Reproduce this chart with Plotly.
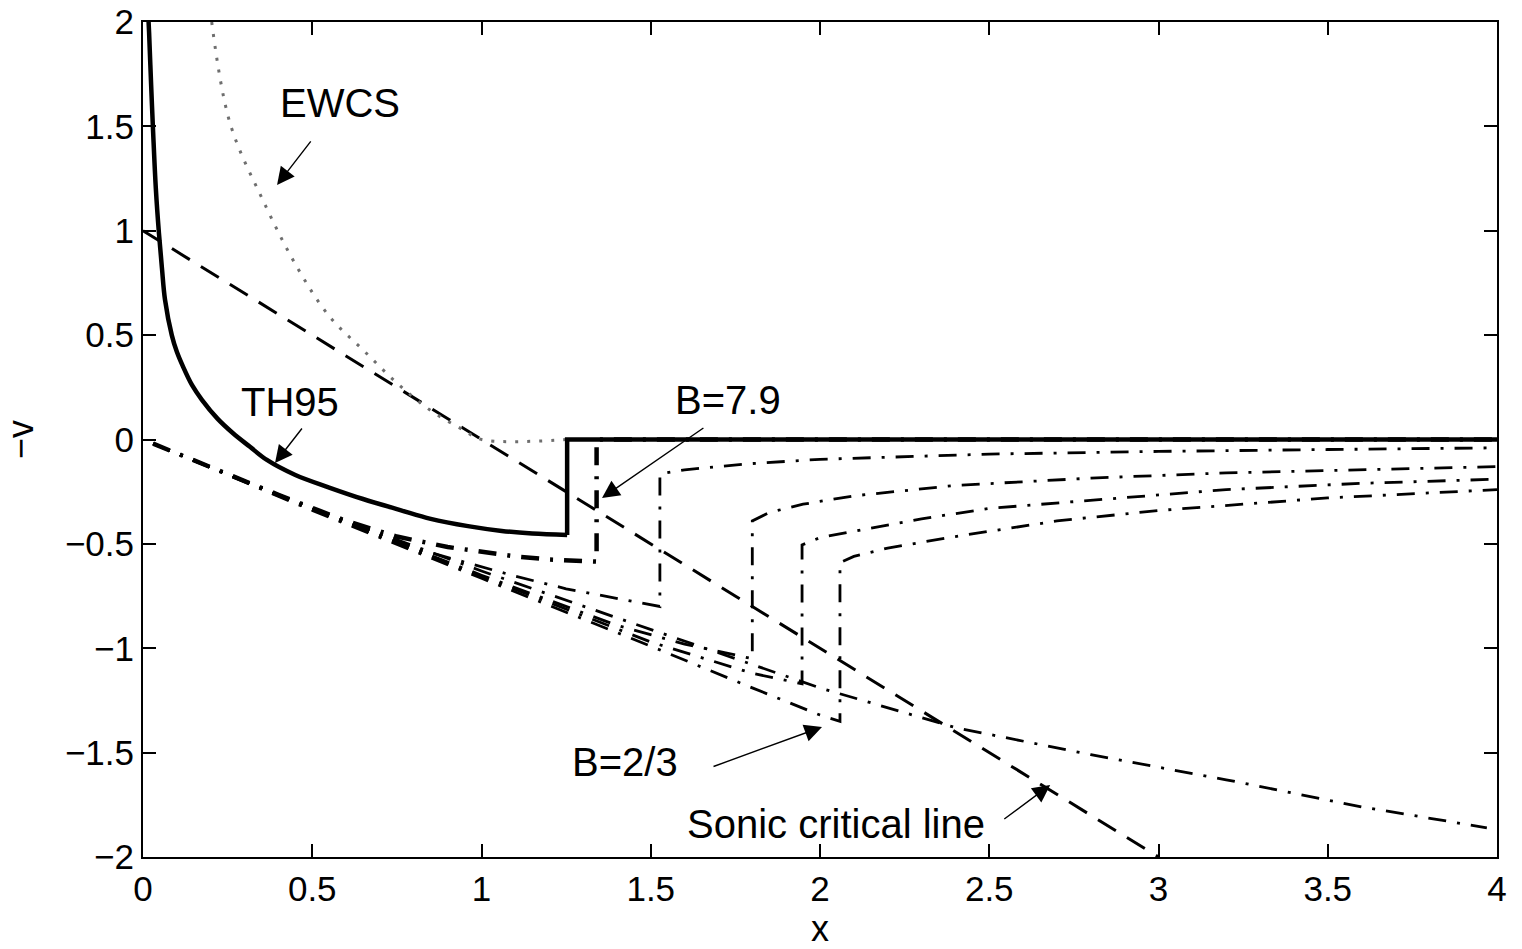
import plotly.graph_objects as go

# ---------------- data ----------------
x_tick_vals = [0, 0.5, 1, 1.5, 2, 2.5, 3, 3.5, 4]
x_tick_text = ["0", "0.5", "1", "1.5", "2", "2.5", "3", "3.5", "4"]
y_tick_vals = [-2, -1.5, -1, -0.5, 0, 0.5, 1, 1.5, 2]
y_tick_text = ["\u22122", "\u22121.5", "\u22121", "\u22120.5", "0", "0.5", "1", "1.5", "2"]

# sonic critical line
sonic_x = [0.0, 3.0]
sonic_y = [1.0, -2.0]

# EWCS (dotted)
ewcs_x = [0.203, 0.257, 0.354, 0.455, 0.552, 0.650, 0.750, 0.848, 0.946, 1.0, 1.253]
ewcs_y = [2.0, 1.516, 1.147, 0.826, 0.587, 0.429, 0.271, 0.141, 0.046, 0.0, 0.0]

# TH95 (thick solid): inflow branch, then shock jump and flat outer part
th95_x = [0.0165, 0.018, 0.024, 0.030, 0.038, 0.047, 0.056, 0.065, 0.085, 0.10, 0.118, 0.145,
          0.174, 0.22, 0.266, 0.316, 0.366, 0.45, 0.55, 0.65, 0.76, 0.85, 0.96, 1.06, 1.15, 1.253]
th95_y = [2.0, 1.95, 1.70, 1.47, 1.20, 0.99, 0.82, 0.67, 0.50, 0.42, 0.35, 0.26,
          0.19, 0.10, 0.03, -0.035, -0.098, -0.17, -0.23, -0.285, -0.338, -0.38, -0.415, -0.438,
          -0.45, -0.457]
th95_out_x = [1.253, 1.253, 4.0]
th95_out_y = [-0.457, 0.0, 0.0]

# B = 7.9 (thick dash-dot), shock at x ~ 1.34
b79_x = [0.03, 0.4, 0.6, 0.75, 0.9, 1.0, 1.1, 1.2, 1.34, 1.34, 4.0]
b79_y = [-0.02, -0.265, -0.39, -0.465, -0.515, -0.54, -0.56, -0.575, -0.585, 0.0, 0.0]

# shock solution with shock at x ~ 1.53
b2_x = [0.03, 0.5, 0.8, 1.0, 1.1, 1.25, 1.4, 1.527, 1.527, 1.6, 1.8, 2.0, 2.5, 3.0, 3.5, 4.0]
b2_y = [-0.02, -0.33, -0.52, -0.61, -0.655, -0.715, -0.76, -0.80, -0.165, -0.145, -0.115,
        -0.095, -0.07, -0.057, -0.048, -0.04]

# shock solution with shock at x ~ 1.80
b3_x = [0.03, 0.5, 1.0, 1.4, 1.6, 1.80, 1.80, 1.85, 1.95, 2.1, 2.4, 2.8, 3.2, 3.6, 4.0]
b3_y = [-0.02, -0.335, -0.65, -0.89, -0.98, -1.05, -0.39, -0.35, -0.31, -0.27, -0.22,
        -0.185, -0.16, -0.145, -0.13]

# shock solution with shock at x ~ 1.95
b4_x = [0.03, 0.5, 1.0, 1.5, 1.8, 1.947, 1.947, 2.0, 2.1, 2.3, 2.5, 2.8, 3.2, 3.6, 4.0]
b4_y = [-0.02, -0.335, -0.655, -0.97, -1.12, -1.17, -0.505, -0.47, -0.44, -0.38, -0.33,
        -0.29, -0.24, -0.21, -0.19]

# B = 2/3, shock at x ~ 2.06
b23_x = [0.03, 0.5, 1.0, 1.5, 1.8, 2.0, 2.059, 2.059, 2.1, 2.2, 2.4, 2.7, 3.0, 3.5, 4.0]
b23_y = [-0.02, -0.34, -0.665, -0.99, -1.19, -1.32, -1.35, -0.59, -0.56, -0.52, -0.465,
         -0.39, -0.34, -0.28, -0.24]

# solution without shock (continues to x = 4)
free_x = [0.03, 0.5, 1.0, 1.5, 2.0, 2.4, 2.8, 3.2, 3.6, 3.97]
free_y = [-0.02, -0.33, -0.63, -0.91, -1.19, -1.38, -1.51, -1.63, -1.76, -1.86]

# annotations: label, text position, arrow tail, arrow tip (data units)
labels = ["EWCS", "TH95", "B=7.9", "B=2/3", "Sonic critical line"]
label_x = [0.582, 0.434, 1.728, 1.424, 2.047]
label_y = [1.612, 0.18, 0.189, -1.545, -1.842]
tail_x = [0.499, 0.473, 1.66, 1.681, 2.54]
tail_y = [1.435, 0.06, 0.06, -1.569, -1.823]
tip_x = [0.396, 0.39, 1.356, 2.006, 2.68]
tip_y = [1.219, -0.113, -0.28, -1.377, -1.655]

# ---------------- figure ----------------
FONT = "Liberation Sans, Arial, Helvetica, sans-serif"
DASHDOT = "18px,11px,3px,11px"
fig = go.Figure()

fig.add_trace(go.Scatter(x=sonic_x, y=sonic_y, mode="lines", name="Sonic critical line",
                         line=dict(color="black", width=3, dash="21px,13px")))
fig.add_trace(go.Scatter(x=ewcs_x, y=ewcs_y, mode="lines", name="EWCS", line_shape="spline",
                         line=dict(color="#6e6e6e", width=3, dash="3px,9px")))
for xs, ys, nm in [(free_x, free_y, "no shock"), (b23_x, b23_y, "B=2/3"), (b4_x, b4_y, "B4"),
                   (b3_x, b3_y, "B3"), (b2_x, b2_y, "B2")]:
    fig.add_trace(go.Scatter(x=xs, y=ys, mode="lines", name=nm,
                             line=dict(color="black", width=2.8, dash=DASHDOT)))
fig.add_trace(go.Scatter(x=b79_x, y=b79_y, mode="lines", name="B=7.9",
                         line=dict(color="black", width=4.5, dash=DASHDOT)))
fig.add_trace(go.Scatter(x=th95_x, y=th95_y, mode="lines", name="TH95", line_shape="spline",
                         line=dict(color="black", width=4.5)))
fig.add_trace(go.Scatter(x=th95_out_x, y=th95_out_y, mode="lines", name="TH95 outer",
                         line=dict(color="black", width=4.5)))

for i in range(len(labels)):
    fig.add_annotation(x=label_x[i], y=label_y[i], text=labels[i], showarrow=False,
                       xref="x", yref="y", font=dict(size=40, color="black", family=FONT))
    fig.add_annotation(x=tip_x[i], y=tip_y[i], ax=tail_x[i], ay=tail_y[i],
                       xref="x", yref="y", axref="x", ayref="y", text="",
                       showarrow=True, arrowhead=2, arrowsize=2.5, arrowwidth=1.4,
                       arrowcolor="black")

axis_common = dict(showgrid=False, zeroline=False, showline=True, linecolor="black",
                   linewidth=2, mirror="ticks", ticks="inside", ticklen=13, tickwidth=1.5,
                   tickcolor="black", automargin=False,
                   tickfont=dict(size=35, color="black", family=FONT))

fig.update_xaxes(range=[0, 4], tickvals=x_tick_vals, ticktext=x_tick_text,
                 title=dict(text="x", standoff=4,
                            font=dict(size=36, color="black", family=FONT)),
                 **axis_common)
fig.update_yaxes(range=[-2, 2], tickvals=y_tick_vals, ticktext=y_tick_text,
                 title=dict(text="\u2212v", standoff=22,
                            font=dict(size=36, color="black", family=FONT)),
                 **axis_common)

fig.update_layout(width=1522, height=949, showlegend=False,
                  paper_bgcolor="white", plot_bgcolor="white",
                  margin=dict(l=143, r=25, t=22, b=92),
                  font=dict(family=FONT, color="black"))

fig.write_html("out.html")
